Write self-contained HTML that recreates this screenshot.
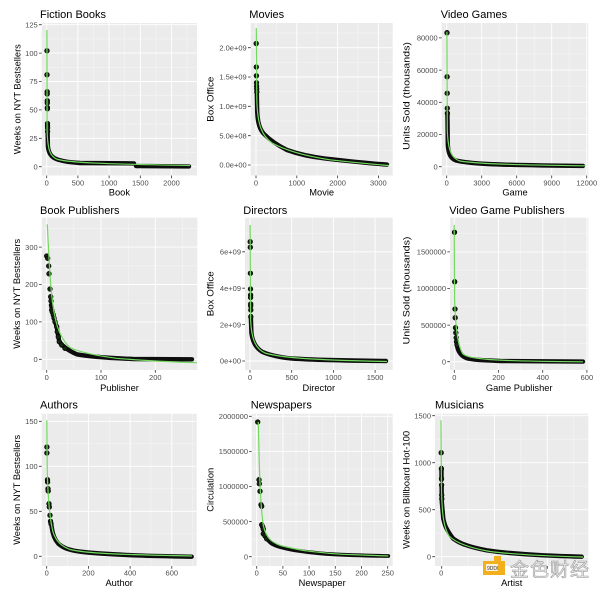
<!DOCTYPE html>
<html><head><meta charset="utf-8"><style>
html,body{margin:0;padding:0;background:#fff;}
svg{display:block;font-family:"Liberation Sans",Arial,sans-serif;}
.bg{fill:#EBEBEB;}
.mj{stroke:#fff;stroke-width:0.9;fill:none;}
.mn{stroke:#F7F7F7;stroke-width:0.5;fill:none;}
.tk{stroke:#333;stroke-width:0.8;}
.tl{font-size:7.5px;fill:#4D4D4D;}
.ty{text-anchor:end;}
.tx{text-anchor:middle;}
.at{font-size:9.3px;fill:#000;text-anchor:middle;}
.ti{font-size:11px;fill:#000;}
.band{stroke:#0d0d0d;stroke-width:4.4;fill:none;stroke-linecap:round;stroke-linejoin:round;}
.fit{stroke:#72d95e;stroke-width:1.2;fill:none;}
.pt{fill:#15260f;stroke:#000;stroke-width:0.7;}
</style></head><body>
<svg width="600" height="592" viewBox="0 0 600 592" xmlns="http://www.w3.org/2000/svg">

<!-- ========== P1 Fiction Books ========== -->
<rect class="bg" x="41.7" y="23" width="155.3" height="152.5"/>
<path class="mn" d="M41.7,152.5H197M41.7,124.1H197M41.7,95.7H197M41.7,67.3H197M41.7,38.9H197M62.3,23V175.5M93.5,23V175.5M124.7,23V175.5M155.9,23V175.5M187.1,23V175.5"/>
<path class="mj" d="M41.7,166.7H197M41.7,138.3H197M41.7,109.9H197M41.7,81.5H197M41.7,53.1H197M41.7,24.7H197M46.7,23V175.5M77.9,23V175.5M109.1,23V175.5M140.3,23V175.5M171.5,23V175.5"/>
<path class="band" d="M47.6,131 L47.9,146 C48.5,153 51,157.5 58,159.7 C64,161.5 70,162.5 80,163 L134,163.4 M136,166 L189,166.4"/>
<g class="pt"><circle cx="47" cy="50.8" r="2.3"/><circle cx="47" cy="74.7" r="2.3"/><circle cx="47.2" cy="91.7" r="2.3"/><circle cx="47.2" cy="94" r="2.3"/><circle cx="47.3" cy="100.8" r="2.3"/><circle cx="47.3" cy="103" r="2.3"/><circle cx="47.4" cy="107.6" r="2.3"/><circle cx="47.4" cy="108.8" r="2.3"/><circle cx="47.5" cy="123.5" r="2.3"/><circle cx="47.5" cy="125.8" r="2.3"/><circle cx="47.6" cy="128" r="2.3"/><circle cx="47.6" cy="131.5" r="2.3"/></g>
<path class="fit" d="M46.9,30 L47.1,130 C47.6,150 50,157 58,159.5 C70,162.5 100,164 190,165.5"/>
<path class="tk" d="M39,166.7H41.7M39,138.3H41.7M39,109.9H41.7M39,81.5H41.7M39,53.1H41.7M39,24.7H41.7M46.7,175.5V178.2M77.9,175.5V178.2M109.1,175.5V178.2M140.3,175.5V178.2M171.5,175.5V178.2"/>
<g class="tl ty"><text x="37.7" y="169.4">0</text><text x="37.7" y="141">25</text><text x="37.7" y="112.6">50</text><text x="37.7" y="84.2">75</text><text x="37.7" y="55.8">100</text><text x="37.7" y="27.4">125</text></g>
<g class="tl tx"><text x="46.7" y="185.4">0</text><text x="77.9" y="185.4">500</text><text x="109.1" y="185.4">1000</text><text x="140.3" y="185.4">1500</text><text x="171.5" y="185.4">2000</text></g>
<text class="at" x="119.4" y="195.3">Book</text>
<text class="at" transform="translate(20.3,99.2) rotate(-90)" textLength="110" lengthAdjust="spacingAndGlyphs">Weeks on NYT Bestsellers</text>
<text class="ti" x="40" y="18">Fiction Books</text>

<!-- ========== P2 Movies ========== -->
<rect class="bg" x="250.7" y="23" width="142" height="152.5"/>
<path class="mn" d="M250.7,150.3H392.7M250.7,121H392.7M250.7,91.65H392.7M250.7,62.3H392.7M250.7,33H392.7M276.4,23V175.5M317.2,23V175.5M358,23V175.5"/>
<path class="mj" d="M250.7,165H392.7M250.7,135.7H392.7M250.7,106.3H392.7M250.7,77H392.7M250.7,47.7H392.7M256,23V175.5M296.8,23V175.5M337.6,23V175.5M378.4,23V175.5"/>
<path class="band" d="M256.8,92 L257.2,112 C257.8,124 260,130 264,134 C268,138 275,144 287,150 C298,154 310,156.7 325,158.5 C345,160.8 365,163 387,164.6"/>
<g class="pt"><circle cx="256.2" cy="43.5" r="2.3"/><circle cx="256.3" cy="67" r="2.3"/><circle cx="256.4" cy="75.8" r="2.3"/><circle cx="256.5" cy="82.8" r="2.3"/><circle cx="256.6" cy="86.3" r="2.3"/><circle cx="256.7" cy="89" r="2.3"/><circle cx="256.8" cy="92" r="2.3"/></g>
<path class="fit" d="M256.3,28 L256.8,100 C257.5,125 262,136 272,143 C285,150 305,156 330,159.8 C350,162 370,164 389,165.5"/>
<path class="tk" d="M248,165H250.7M248,135.7H250.7M248,106.3H250.7M248,77H250.7M248,47.7H250.7M256,175.5V178.2M296.8,175.5V178.2M337.6,175.5V178.2M378.4,175.5V178.2"/>
<g class="tl ty"><text x="246.7" y="167.7">0.0e+00</text><text x="246.7" y="138.4">5.0e+08</text><text x="246.7" y="109">1.0e+09</text><text x="246.7" y="79.7">1.5e+09</text><text x="246.7" y="50.4">2.0e+09</text></g>
<g class="tl tx"><text x="256" y="185.4">0</text><text x="296.8" y="185.4">1000</text><text x="337.6" y="185.4">2000</text><text x="378.4" y="185.4">3000</text></g>
<text class="at" x="321.7" y="195.3">Movie</text>
<text class="at" transform="translate(213.3,99.2) rotate(-90)" textLength="45" lengthAdjust="spacingAndGlyphs">Box Office</text>
<text class="ti" x="249.3" y="18">Movies</text>

<!-- ========== P3 Video Games ========== -->
<rect class="bg" x="441.7" y="23" width="146.6" height="152.5"/>
<path class="mn" d="M441.7,150.6H588.3M441.7,118.4H588.3M441.7,86.2H588.3M441.7,54H588.3M464.2,23V175.5M499.2,23V175.5M534.2,23V175.5M569.2,23V175.5"/>
<path class="mj" d="M441.7,166.7H588.3M441.7,134.5H588.3M441.7,102.3H588.3M441.7,70.1H588.3M441.7,37.9H588.3M446.7,23V175.5M481.7,23V175.5M516.7,23V175.5M551.7,23V175.5M586.7,23V175.5"/>
<path class="band" d="M447.4,113 L447.8,145 C448.5,155 451,158.5 456,160.5 C462,162 470,163 487,164 C510,165 540,165.6 583,165.9"/>
<g class="pt"><circle cx="447" cy="32.7" r="2.3"/><circle cx="447.1" cy="76.7" r="2.3"/><circle cx="447.2" cy="93.3" r="2.3"/><circle cx="447.3" cy="108.3" r="2.3"/><circle cx="447.4" cy="113.3" r="2.3"/></g>
<path class="fit" d="M446.9,31.7 L447.3,130 C448,152 452,158.5 460,161 C475,163.5 500,164.6 585,165.8"/>
<path class="tk" d="M439,166.7H441.7M439,134.5H441.7M439,102.3H441.7M439,70.1H441.7M439,37.9H441.7M446.7,175.5V178.2M481.7,175.5V178.2M516.7,175.5V178.2M551.7,175.5V178.2M586.7,175.5V178.2"/>
<g class="tl ty"><text x="437.7" y="169.4">0</text><text x="437.7" y="137.2">20000</text><text x="437.7" y="105">40000</text><text x="437.7" y="72.8">60000</text><text x="437.7" y="40.6">80000</text></g>
<g class="tl tx"><text x="446.7" y="185.4">0</text><text x="481.7" y="185.4">3000</text><text x="516.7" y="185.4">6000</text><text x="551.7" y="185.4">9000</text><text x="586.7" y="185.4">12000</text></g>
<text class="at" x="515" y="195.3">Game</text>
<text class="at" transform="translate(409.5,96) rotate(-90)" textLength="108" lengthAdjust="spacingAndGlyphs">Units Sold (thousands)</text>
<text class="ti" x="440.7" y="18">Video Games</text>

<!-- ========== P4 Book Publishers ========== -->
<rect class="bg" x="41.7" y="217.7" width="155.6" height="152.3"/>
<path class="mn" d="M41.7,340.6H197.3M41.7,303.2H197.3M41.7,265.8H197.3M41.7,228.4H197.3M73.85,217.7V370M128.15,217.7V370M182.45,217.7V370"/>
<path class="mj" d="M41.7,359.3H197.3M41.7,321.9H197.3M41.7,284.5H197.3M41.7,247.1H197.3M46.7,217.7V370M101,217.7V370M155.3,217.7V370"/>
<path class="band" d="M51,305 L53.3,315 L55,321.7 L56.7,326.7 L58.3,336.7 L59.3,341.7 C62,345.5 67,350 76.7,354.3 C90,357 110,358 133,359 L192,359.3"/>
<g class="pt"><circle cx="46.7" cy="256" r="2.3"/><circle cx="47.7" cy="258.3" r="2.3"/><circle cx="48.7" cy="266" r="2.3"/><circle cx="49" cy="273.7" r="2.3"/><circle cx="50" cy="289" r="2.3"/><circle cx="50.7" cy="296.7" r="2.3"/><circle cx="51" cy="301" r="2.3"/><circle cx="51.7" cy="310" r="2.3"/><circle cx="52.3" cy="312" r="2.3"/><circle cx="53.3" cy="315" r="2.3"/><circle cx="54" cy="318" r="2.3"/><circle cx="55" cy="321.7" r="2.3"/><circle cx="56.7" cy="326.7" r="2.3"/><circle cx="57.3" cy="331.7" r="2.3"/><circle cx="58.3" cy="336.7" r="2.3"/><circle cx="59.3" cy="341.7" r="2.3"/><circle cx="61.7" cy="345" r="2.3"/><circle cx="65" cy="348.3" r="2.3"/></g>
<path class="fit" d="M47.3,224.3 C48.5,250 50,280 51.7,295 C53,308 55,318 57,325 C60,335 64,342 70,347.5 C80,352.5 95,355.5 116.7,358.3 C140,360.3 165,361.7 196.7,362.7"/>
<path class="tk" d="M39,359.3H41.7M39,321.9H41.7M39,284.5H41.7M39,247.1H41.7M46.7,370V372.7M101,370V372.7M155.3,370V372.7"/>
<g class="tl ty"><text x="37.7" y="362">0</text><text x="37.7" y="324.6">100</text><text x="37.7" y="287.2">200</text><text x="37.7" y="249.8">300</text></g>
<g class="tl tx"><text x="46.7" y="380">0</text><text x="101" y="380">100</text><text x="155.3" y="380">200</text></g>
<text class="at" x="119.5" y="391">Publisher</text>
<text class="at" transform="translate(20,293.8) rotate(-90)" textLength="110" lengthAdjust="spacingAndGlyphs">Weeks on NYT Bestsellers</text>
<text class="ti" x="40" y="214">Book Publishers</text>

<!-- ========== P5 Directors ========== -->
<rect class="bg" x="245" y="217.7" width="147.7" height="152.3"/>
<path class="mn" d="M245,342.8H392.7M245,306.4H392.7M245,270H392.7M245,233.6H392.7M270.85,217.7V370M312.55,217.7V370M354.25,217.7V370"/>
<path class="mj" d="M245,361H392.7M245,324.6H392.7M245,288.2H392.7M245,251.8H392.7M250,217.7V370M291.7,217.7V370M333.4,217.7V370M375.1,217.7V370"/>
<path class="band" d="M250.8,316 L251.4,333 C252.5,342 256,348 262,351.7 C270,355.3 280,357.3 292,358.5 C315,360 345,360.6 386,361"/>
<g class="pt"><circle cx="250.2" cy="241.7" r="2.3"/><circle cx="250.3" cy="247.3" r="2.3"/><circle cx="250.4" cy="273.3" r="2.3"/><circle cx="250.5" cy="289" r="2.3"/><circle cx="250.6" cy="295" r="2.3"/><circle cx="250.6" cy="297.5" r="2.3"/><circle cx="250.7" cy="304" r="2.3"/><circle cx="250.7" cy="306" r="2.3"/><circle cx="250.8" cy="310" r="2.3"/><circle cx="250.8" cy="316.7" r="2.3"/></g>
<path class="fit" d="M250.1,225 L250.6,320 C251.5,340 256,349 265,353 C280,357.5 310,360 387,361.5"/>
<path class="tk" d="M242.3,361H245M242.3,324.6H245M242.3,288.2H245M242.3,251.8H245M250,370V372.7M291.7,370V372.7M333.4,370V372.7M375.1,370V372.7"/>
<g class="tl ty"><text x="241" y="363.7">0e+00</text><text x="241" y="327.3">2e+09</text><text x="241" y="290.9">4e+09</text><text x="241" y="254.5">6e+09</text></g>
<g class="tl tx"><text x="250" y="380">0</text><text x="291.7" y="380">500</text><text x="333.4" y="380">1000</text><text x="375.1" y="380">1500</text></g>
<text class="at" x="318.8" y="391">Director</text>
<text class="at" transform="translate(213.3,293.8) rotate(-90)" textLength="45" lengthAdjust="spacingAndGlyphs">Box Office</text>
<text class="ti" x="243.3" y="214">Directors</text>

<!-- ========== P6 Video Game Publishers ========== -->
<rect class="bg" x="450" y="217.7" width="138.3" height="152.3"/>
<path class="mn" d="M450,343.4H588.3M450,306.8H588.3M450,270.2H588.3M450,233.6H588.3M476.4,217.7V370M520.6,217.7V370M564.8,217.7V370"/>
<path class="mj" d="M450,361.7H588.3M450,325.1H588.3M450,288.5H588.3M450,251.9H588.3M454.3,217.7V370M498.5,217.7V370M542.7,217.7V370M586.9,217.7V370"/>
<path class="band" d="M456.6,341 L457.5,348 C459,353 462,356.5 467,358.3 C472,359.7 480,360.4 500,361 L583,361.6"/>
<g class="pt"><circle cx="454.5" cy="232.3" r="2.3"/><circle cx="454.7" cy="281.7" r="2.3"/><circle cx="455" cy="309" r="2.3"/><circle cx="455.2" cy="317.7" r="2.3"/><circle cx="455.5" cy="327.7" r="2.3"/><circle cx="455.8" cy="332.7" r="2.3"/><circle cx="456.2" cy="337.7" r="2.3"/><circle cx="456.5" cy="341.7" r="2.3"/><circle cx="457" cy="345" r="2.3"/></g>
<path class="fit" d="M454.2,225 L454.6,300 C455.5,330 458,347 463,354 C470,359 485,361 583,361.8"/>
<path class="tk" d="M447.3,361.7H450M447.3,325.1H450M447.3,288.5H450M447.3,251.9H450M454.3,370V372.7M498.5,370V372.7M542.7,370V372.7M586.9,370V372.7"/>
<g class="tl ty"><text x="446" y="364.4">0</text><text x="446" y="327.8">500000</text><text x="446" y="291.2">1000000</text><text x="446" y="254.6">1500000</text></g>
<g class="tl tx"><text x="454.3" y="380">0</text><text x="498.5" y="380">200</text><text x="542.7" y="380">400</text><text x="586.9" y="380">600</text></g>
<text class="at" x="519.2" y="391">Game Publisher</text>
<text class="at" transform="translate(409.5,290.5) rotate(-90)" textLength="108" lengthAdjust="spacingAndGlyphs">Units Sold (thousands)</text>
<text class="ti" x="449.3" y="214">Video Game Publishers</text>

<!-- ========== P7 Authors ========== -->
<rect class="bg" x="41.7" y="413.7" width="155" height="152.3"/>
<path class="mn" d="M41.7,533.8H196.7M41.7,488.8H196.7M41.7,443.8H196.7M67.55,413.7V566M109.25,413.7V566M150.95,413.7V566M192.65,413.7V566"/>
<path class="mj" d="M41.7,556.3H196.7M41.7,511.3H196.7M41.7,466.3H196.7M41.7,421.3H196.7M46.7,413.7V566M88.4,413.7V566M130.1,413.7V566M171.8,413.7V566"/>
<path class="band" d="M51,523 L51.7,527 C52.5,534 55,540 58.3,543.7 C61,546 63.5,547.5 66.7,548.7 C72,550.5 78,551.5 83.3,552 C92,553 100,553.7 133.3,555.3 C150,556 170,556.3 191.7,556.7"/>
<g class="pt"><circle cx="46.9" cy="447" r="2.3"/><circle cx="46.9" cy="453" r="2.3"/><circle cx="47.5" cy="479.7" r="2.3"/><circle cx="47.6" cy="482" r="2.3"/><circle cx="48" cy="488.7" r="2.3"/><circle cx="48.2" cy="491" r="2.3"/><circle cx="49" cy="503.7" r="2.3"/><circle cx="49.3" cy="507" r="2.3"/><circle cx="50" cy="515.3" r="2.3"/><circle cx="50.5" cy="521.3" r="2.3"/><circle cx="51" cy="523.7" r="2.3"/></g>
<path class="fit" d="M46.8,420.3 L47.2,470 C48,500 50,520 53,532 C56,541 61,546 70,549.5 C85,553 110,554.5 192,556"/>
<path class="tk" d="M39,556.3H41.7M39,511.3H41.7M39,466.3H41.7M39,421.3H41.7M46.7,566V568.7M88.4,566V568.7M130.1,566V568.7M171.8,566V568.7"/>
<g class="tl ty"><text x="37.7" y="559">0</text><text x="37.7" y="514">50</text><text x="37.7" y="469">100</text><text x="37.7" y="424">150</text></g>
<g class="tl tx"><text x="46.7" y="575.7">0</text><text x="88.4" y="575.7">200</text><text x="130.1" y="575.7">400</text><text x="171.8" y="575.7">600</text></g>
<text class="at" x="119.2" y="586">Author</text>
<text class="at" transform="translate(20,489.8) rotate(-90)" textLength="110" lengthAdjust="spacingAndGlyphs">Weeks on NYT Bestsellers</text>
<text class="ti" x="40" y="408.7">Authors</text>

<!-- ========== P8 Newspapers ========== -->
<rect class="bg" x="251.7" y="413.7" width="141" height="152.3"/>
<path class="mn" d="M251.7,539.15H392.7M251.7,504.05H392.7M251.7,468.95H392.7M251.7,433.85H392.7M269.8,413.7V566M296,413.7V566M322.2,413.7V566M348.4,413.7V566M374.6,413.7V566"/>
<path class="mj" d="M251.7,556.7H392.7M251.7,521.6H392.7M251.7,486.5H392.7M251.7,451.4H392.7M251.7,416.3H392.7M256.7,413.7V566M282.9,413.7V566M309.1,413.7V566M335.3,413.7V566M361.5,413.7V566M387.7,413.7V566"/>
<path class="band" style="stroke-width:3.8" d="M265,536 C267,539.5 269.5,542 271.7,543.7 C275,545.5 278,546.5 280,547 C286,548.5 290,549.5 293.3,550 C300,551 305,551.8 310,552.3 C320,553.4 330,554.2 333.3,554.3 C345,554.9 355,555.2 360,555.3 C372,555.7 380,555.9 388.3,556"/>
<g class="pt"><circle cx="257.7" cy="422" r="2.3"/><circle cx="259" cy="479.7" r="2.3"/><circle cx="259.3" cy="483.7" r="2.3"/><circle cx="260" cy="491.3" r="2.3"/><circle cx="261" cy="504.7" r="2.3"/><circle cx="261.7" cy="506.3" r="2.3"/><circle cx="261.7" cy="524.7" r="2.3"/><circle cx="262.7" cy="527" r="2.3"/><circle cx="263.3" cy="529.3" r="2.3"/><circle cx="263.3" cy="533.7" r="2.3"/><circle cx="265" cy="536" r="2.3"/><circle cx="266.7" cy="538.7" r="2.3"/></g>
<path class="fit" d="M258.3,422 L259.2,460 C260,490 261,510 263.3,525.3 C265,533 268,539 273.3,542 C278,545 283,546.5 286.7,547 C295,549 303,550.5 310,551.3 C325,553 335,554 343.3,554.3 C360,555 375,555.6 388.3,556"/>
<path class="tk" d="M249,556.7H251.7M249,521.6H251.7M249,486.5H251.7M249,451.4H251.7M249,416.3H251.7M256.7,566V568.7M282.9,566V568.7M309.1,566V568.7M335.3,566V568.7M361.5,566V568.7M387.7,566V568.7"/>
<g class="tl ty"><text x="248" y="559.4">0</text><text x="248" y="524.3">500000</text><text x="248" y="489.2">1000000</text><text x="248" y="454.1">1500000</text><text x="248" y="419">2000000</text></g>
<g class="tl tx"><text x="256.7" y="575.7">0</text><text x="282.9" y="575.7">50</text><text x="309.1" y="575.7">100</text><text x="335.3" y="575.7">150</text><text x="361.5" y="575.7">200</text><text x="387.7" y="575.7">250</text></g>
<text class="at" x="322.2" y="586">Newspaper</text>
<text class="at" transform="translate(213.3,489.8) rotate(-90)">Circulation</text>
<text class="ti" x="250.7" y="408.7">Newspapers</text>

<!-- ========== P9 Musicians ========== -->
<rect class="bg" x="435" y="413.7" width="153.3" height="152.3"/>
<path class="mn" d="M435,533.2H588.3M435,486.2H588.3M435,439.2H588.3M468.1,413.7V566M520.9,413.7V566M573.7,413.7V566"/>
<path class="mj" d="M435,556.7H588.3M435,509.7H588.3M435,462.7H588.3M435,415.7H588.3M441.7,413.7V566M494.5,413.7V566M547.3,413.7V566"/>
<path class="band" d="M441.5,468 L441.5,480 M441.6,485 L441.8,502 L443.3,518.7 C444.5,524 445,526 446.7,528.7 C449,533 451,536 453.3,538.7 C458,542 462,544 466.7,545.3 C473,547.5 480,549 486.7,550.3 C495,551.6 502,552.4 510,553 C520,553.9 533,554.8 543.3,555.3 C560,556 570,556.4 581.7,556.7"/>
<g class="pt"><circle cx="441.2" cy="452.7" r="2.3"/><circle cx="441.4" cy="468.7" r="2.3"/><circle cx="441.5" cy="478.7" r="2.3"/><circle cx="441.6" cy="485" r="2.3"/><circle cx="441.7" cy="495" r="2.3"/><circle cx="441.8" cy="498.7" r="2.3"/></g>
<path class="fit" d="M441,420.3 L441.5,490 C442,515 444,528 449,536 C456,543 470,548 490,551.5 C515,554.5 545,556 583,557"/>
<path class="tk" d="M432.3,556.7H435M432.3,509.7H435M432.3,462.7H435M432.3,415.7H435M441.7,566V568.7M494.5,566V568.7M547.3,566V568.7"/>
<g class="tl ty"><text x="431" y="559.4">0</text><text x="431" y="512.4">500</text><text x="431" y="465.4">1000</text><text x="431" y="418.4">1500</text></g>
<g class="tl tx"><text x="441.2" y="575.7">0</text></g>
<text class="at" x="511.7" y="586">Artist</text>
<text class="at" transform="translate(409.5,489.8) rotate(-90)" textLength="118" lengthAdjust="spacingAndGlyphs">Weeks on Billboard Hot-100</text>
<text class="ti" x="435" y="408.7">Musicians</text>

<!-- ========== Watermark ========== -->
<g>
<rect x="483" y="561" width="22" height="14" fill="#F2B01E"/>
<rect x="494" y="556" width="7" height="7" fill="#F2B01E"/>
<rect x="486" y="564" width="12" height="7" fill="#fff" opacity="0.85"/>
<text x="487" y="570" font-size="5" fill="#333">9DDI</text>
<text x="510" y="576" font-size="19" fill="#eeeeee" stroke="#9a9a9a" stroke-width="0.6" style='font-family:"Liberation Sans","Noto Sans CJK SC",sans-serif;letter-spacing:1px'>金色财经</text>
</g>
</svg>
</body></html>
